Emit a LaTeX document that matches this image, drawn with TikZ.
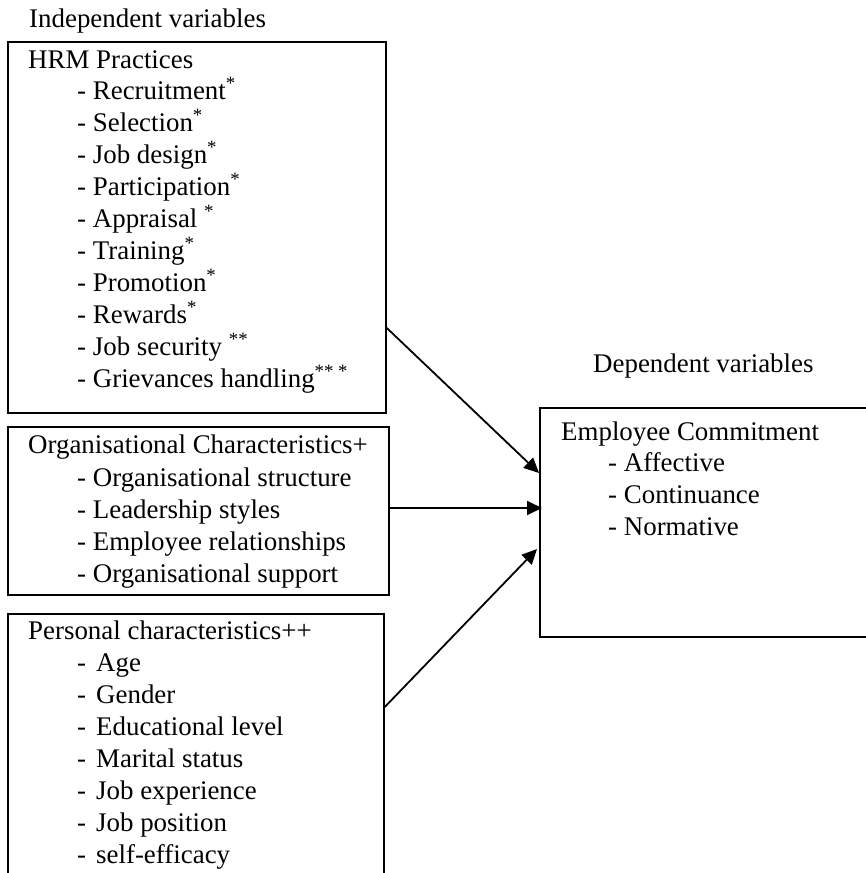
\documentclass[tikz,border=0pt]{standalone}
\usepackage{fontspec}
\setmainfont{Liberation Serif}
\usetikzlibrary{arrows.meta}
\begin{document}
\begin{tikzpicture}[x=1pt,y=-1pt,
  txt/.style={anchor=base west,inner sep=0pt,font=\fontsize{26.9}{32}\selectfont},
  box/.style={draw,line width=1.8pt,anchor=north west,inner sep=0pt},
  arr/.style={line width=1.8pt,-{Triangle[length=15pt,width=14pt]}}]
\useasboundingbox (0,0) rectangle (866,873);
\clip (0,0) rectangle (866,873);
% boxes
\node[box,minimum width=378pt,minimum height=371pt] (hrm) at (7,41) {};
\node[box,minimum width=381pt,minimum height=168pt] (org) at (7,426) {};
\node[box,minimum width=376pt,minimum height=300pt] (per) at (7,613) {};
\node[box,minimum width=340pt,minimum height=229pt] (ec) at (539,407) {};
% titles
\node[txt] (indep) at (29,27) {Independent variables};
\node[txt] (dep) at (593,372) {Dependent variables};
% HRM
\node[txt] (h0) at (28,68) {HRM Practices};
\node[txt] (h1) at (77,99) {- Recruitment\textsuperscript{*}};
\node[txt] (h2) at (77,131) {- Selection\textsuperscript{*}};
\node[txt] (h3) at (77,163) {- Job design\textsuperscript{*}};
\node[txt] (h4) at (77,195) {- Participation\textsuperscript{*}};
\node[txt] (h5) at (77,227) {- Appraisal \textsuperscript{*}};
\node[txt] (h6) at (77,259) {- Training\textsuperscript{*}};
\node[txt] (h7) at (77,291) {- Promotion\textsuperscript{*}};
\node[txt] (h8) at (77,323) {- Rewards\textsuperscript{*}};
\node[txt] (h9) at (77,355) {- Job security \textsuperscript{**}};
\node[txt] (h10) at (77,387) {- Grievances handling\textsuperscript{** *}};
% Org
\node[txt] (o0) at (28,453) {Organisational Characteristics+};
\node[txt] (o1) at (77,486) {- Organisational structure};
\node[txt] (o2) at (77,518) {- Leadership styles};
\node[txt] (o3) at (77,550) {- Employee relationships};
\node[txt] (o4) at (77,582) {- Organisational support};
% Personal
\newcommand{\pd}{\makebox[19pt][l]{-}}
\node[txt] (p0) at (28,639) {Personal characteristics++};
\node[txt] (p1) at (77,671) {\pd Age};
\node[txt] (p2) at (77,703) {\pd Gender};
\node[txt] (p3) at (77,735) {\pd Educational level};
\node[txt] (p4) at (77,767) {\pd Marital status};
\node[txt] (p5) at (77,799) {\pd Job experience};
\node[txt] (p6) at (77,831) {\pd Job position};
\node[txt] (p7) at (77,863) {\pd self-efficacy};
% EC
\node[txt] (e0) at (561,440) {Employee Commitment};
\node[txt] (e1) at (608,471) {- Affective};
\node[txt] (e2) at (608,503) {- Continuance};
\node[txt] (e3) at (608,535) {- Normative};
% arrows
\coordinate (s1) at (hrm.east |- 0,328);
\coordinate (t1) at (ec.west |- 0,473);
\coordinate (s2) at (org.east |- 0,508);
\coordinate (t2) at ([xshift=3pt]ec.west |- 0,508);
\coordinate (s3) at (per.east |- 0,707);
\coordinate (t3) at ([xshift=-2pt]ec.west |- 0,549);
\draw[arr] (s1) -- (t1);
\draw[arr] (s2) -- (t2);
\draw[arr] (s3) -- (t3);
\end{tikzpicture}
\end{document}
